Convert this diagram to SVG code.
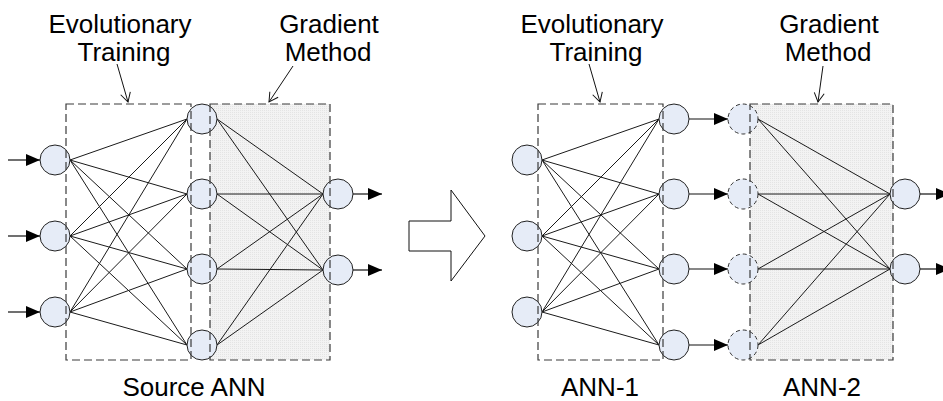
<svg xmlns="http://www.w3.org/2000/svg" width="943" height="401" viewBox="0 0 943 401">
  <style>
    .lbl { font-family: "Liberation Sans", Arial, sans-serif; font-size: 26px; fill: #000; text-anchor: middle; }
    .node { fill: #e6ecf7; stroke: #222; stroke-width: 1; }
    .node.dash { stroke-dasharray: 4 3; stroke: #333; }
    .edge { stroke: #1a1a1a; stroke-width: 1; fill: none; }
    .io { stroke: #111; stroke-width: 1.2; fill: none; marker-end: url(#solid); }
    .ptr { stroke: #111; stroke-width: 1; fill: none; marker-end: url(#open); }
    .box { fill: none; stroke: #3a3a3a; stroke-width: 1.2; stroke-dasharray: 8 4; }
    .shade { fill: url(#grain); stroke: none; }
  </style>
  <defs>
    <pattern id="grain" width="2" height="2" patternUnits="userSpaceOnUse">
      <rect width="2" height="2" fill="#f3f3f3"/>
      <rect width="1" height="1" fill="#e4e4e4"/>
    </pattern>
    <marker id="solid" markerUnits="userSpaceOnUse" markerWidth="14" markerHeight="12" refX="14" refY="6" orient="auto">
      <path d="M0,0 L14,6 L0,12 z" fill="#000"/>
    </marker>
    <marker id="open" markerUnits="userSpaceOnUse" markerWidth="12" markerHeight="12" refX="9" refY="5" orient="auto" overflow="visible">
      <path d="M0,0 L9,5 L0,10" fill="none" stroke="#111" stroke-width="1"/>
    </marker>
  </defs>

  <!-- shaded regions of the gradient-trained layers -->
  <rect class="shade" x="210" y="104" width="120" height="256"/>
  <rect class="shade" x="750" y="104" width="143" height="256"/>

  <!-- labels -->
  <g id="labels">
    <text class="lbl" x="120" y="33">Evolutionary</text>
    <text class="lbl" x="124" y="61">Training</text>
    <text class="lbl" x="329" y="33">Gradient</text>
    <text class="lbl" x="328" y="61">Method</text>
    <text class="lbl" x="592" y="33">Evolutionary</text>
    <text class="lbl" x="596" y="61">Training</text>
    <text class="lbl" x="829" y="33">Gradient</text>
    <text class="lbl" x="828" y="61">Method</text>
    <text class="lbl" x="194" y="396">Source ANN</text>
    <text class="lbl" x="600" y="396">ANN-1</text>
    <text class="lbl" x="822" y="396">ANN-2</text>
  </g>

  <g id="connectors">
    <!-- source ANN: input -> hidden -->
    <path class="edge" d="M70,160 L187,119 M70,160 L187,194 M70,160 L187,269 M70,160 L187,345
                          M70,236 L187,119 M70,236 L187,194 M70,236 L187,269 M70,236 L187,345
                          M70,312 L187,119 M70,312 L187,194 M70,312 L187,269 M70,312 L187,345"/>
    <!-- source ANN: hidden -> output -->
    <path class="edge" d="M217,119 L323,194 M217,194 L323,194 M217,269 L323,194 M217,345 L323,194
                          M217,119 L323,270 M217,194 L323,270 M217,269 L323,270 M217,345 L323,270"/>
    <!-- source ANN: inputs and outputs -->
    <line class="io" x1="8" y1="160" x2="40" y2="160"/>
    <line class="io" x1="8" y1="236" x2="40" y2="236"/>
    <line class="io" x1="8" y1="312" x2="40" y2="312"/>
    <line class="io" x1="353" y1="194" x2="382" y2="194"/>
    <line class="io" x1="353" y1="270" x2="382" y2="270"/>

    <!-- ANN-1: input -> hidden -->
    <path class="edge" d="M542,160 L659,119 M542,160 L659,194 M542,160 L659,269 M542,160 L659,345
                          M542,236 L659,119 M542,236 L659,194 M542,236 L659,269 M542,236 L659,345
                          M542,312 L659,119 M542,312 L659,194 M542,312 L659,269 M542,312 L659,345"/>
    <!-- ANN-1 outputs feed ANN-2 inputs -->
    <line class="io" x1="689" y1="119" x2="728" y2="119"/>
    <line class="io" x1="689" y1="194" x2="728" y2="194"/>
    <line class="io" x1="689" y1="269" x2="728" y2="269"/>
    <line class="io" x1="689" y1="345" x2="728" y2="345"/>
    <!-- ANN-2: input -> output -->
    <path class="edge" d="M758,119 L890,194 M758,194 L890,194 M758,269 L890,194 M758,345 L890,194
                          M758,119 L890,269 M758,194 L890,269 M758,269 L890,269 M758,345 L890,269"/>
    <line class="io" x1="920" y1="194" x2="950" y2="194"/>
    <line class="io" x1="920" y1="269" x2="950" y2="269"/>

    <!-- label pointers -->
    <line class="ptr" x1="117" y1="64" x2="128" y2="102"/>
    <line class="ptr" x1="293" y1="66" x2="269" y2="102"/>
    <line class="ptr" x1="589" y1="64" x2="600" y2="102"/>
    <line class="ptr" x1="823" y1="66" x2="818" y2="102"/>
  </g>

  <!-- source ANN nodes -->
  <g id="src-in-1"><circle class="node" cx="55" cy="160" r="15"/></g>
  <g id="src-in-2"><circle class="node" cx="55" cy="236" r="15"/></g>
  <g id="src-in-3"><circle class="node" cx="55" cy="312" r="15"/></g>
  <g id="src-hid-1"><circle class="node" cx="202" cy="119" r="15"/></g>
  <g id="src-hid-2"><circle class="node" cx="202" cy="194" r="15"/></g>
  <g id="src-hid-3"><circle class="node" cx="202" cy="269" r="15"/></g>
  <g id="src-hid-4"><circle class="node" cx="202" cy="345" r="15"/></g>
  <g id="src-out-1"><circle class="node" cx="338" cy="194" r="15"/></g>
  <g id="src-out-2"><circle class="node" cx="338" cy="270" r="15"/></g>

  <!-- ANN-1 nodes -->
  <g id="a1-in-1"><circle class="node" cx="527" cy="160" r="15"/></g>
  <g id="a1-in-2"><circle class="node" cx="527" cy="236" r="15"/></g>
  <g id="a1-in-3"><circle class="node" cx="527" cy="312" r="15"/></g>
  <g id="a1-out-1"><circle class="node" cx="674" cy="119" r="15"/></g>
  <g id="a1-out-2"><circle class="node" cx="674" cy="194" r="15"/></g>
  <g id="a1-out-3"><circle class="node" cx="674" cy="269" r="15"/></g>
  <g id="a1-out-4"><circle class="node" cx="674" cy="345" r="15"/></g>

  <!-- ANN-2 nodes -->
  <g id="a2-in-1"><circle class="node dash" cx="743" cy="119" r="15"/></g>
  <g id="a2-in-2"><circle class="node dash" cx="743" cy="194" r="15"/></g>
  <g id="a2-in-3"><circle class="node dash" cx="743" cy="269" r="15"/></g>
  <g id="a2-in-4"><circle class="node dash" cx="743" cy="345" r="15"/></g>
  <g id="a2-out-1"><circle class="node" cx="905" cy="194" r="15"/></g>
  <g id="a2-out-2"><circle class="node" cx="905" cy="269" r="15"/></g>

  <!-- training region outlines -->
  <g id="regions">
    <rect class="box" x="66" y="104" width="125" height="256"/>
    <rect class="box" x="210" y="104" width="120" height="256"/>
    <rect class="box" x="538" y="104" width="125" height="256"/>
    <rect class="box" x="750" y="104" width="143" height="256"/>
  </g>

  <!-- transformation arrow -->
  <g id="transform-arrow">
    <path d="M409,221 L451,221 L451,190 L485,236 L451,281 L451,251 L409,251 Z" fill="#fff" stroke="#111" stroke-width="1"/>
  </g>
</svg>
